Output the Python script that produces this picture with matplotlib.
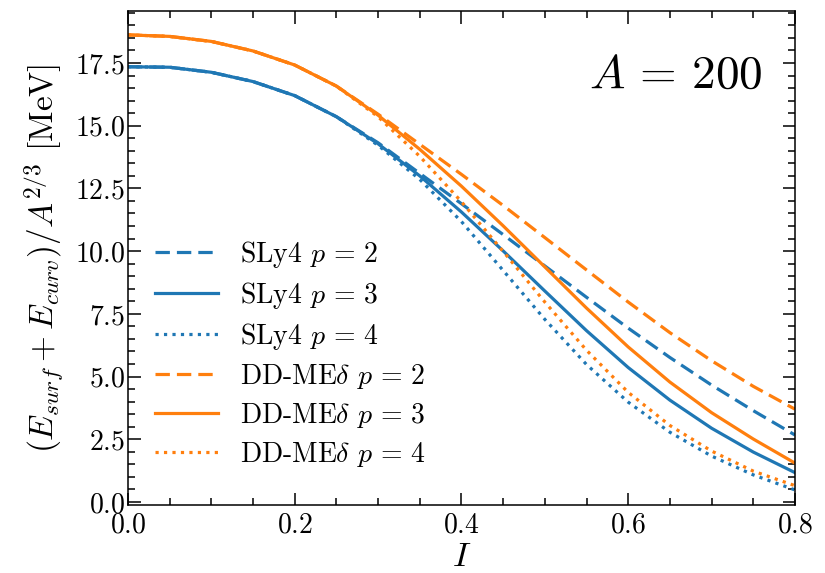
import matplotlib
matplotlib.use('Agg')
from matplotlib import pyplot as plt
from matplotlib.ticker import MultipleLocator

plt.rcParams['font.family'] = 'serif'
plt.rcParams['font.serif'] = ['cmr10']
plt.rcParams['mathtext.fontset'] = 'cm'
plt.rcParams['axes.formatter.use_mathtext'] = True
plt.rcParams['axes.unicode_minus'] = False

# isospin asymmetry grid
I = [0.0, 0.05, 0.10, 0.15, 0.20, 0.25, 0.30, 0.35, 0.40,
     0.45, 0.50, 0.55, 0.60, 0.65, 0.70, 0.75, 0.80]

# (E_surf + E_curv)/A^(2/3) in MeV
sly4_p2 = [17.35, 17.33, 17.13, 16.76, 16.20, 15.36, 14.32, 13.10, 11.89,
           10.66, 9.41, 8.16, 6.93, 5.76, 4.66, 3.64, 2.67]
sly4_p3 = [17.35, 17.33, 17.13, 16.76, 16.20, 15.36, 14.28, 13.00, 11.56,
           10.01, 8.41, 6.83, 5.36, 4.06, 2.94, 1.99, 1.17]
sly4_p4 = [17.35, 17.33, 17.13, 16.76, 16.20, 15.36, 14.22, 12.86, 11.18,
           9.23, 7.28, 5.48, 3.98, 2.78, 1.83, 1.08, 0.48]
ddme_p2 = [18.62, 18.56, 18.36, 17.98, 17.42, 16.58, 15.46, 14.26, 13.06,
           11.82, 10.54, 9.25, 7.97, 6.75, 5.63, 4.61, 3.70]
ddme_p3 = [18.62, 18.56, 18.36, 17.98, 17.42, 16.58, 15.42, 14.06, 12.59,
           11.01, 9.37, 7.73, 6.18, 4.78, 3.56, 2.51, 1.55]
ddme_p4 = [18.62, 18.56, 18.36, 17.98, 17.42, 16.58, 15.36, 13.78, 11.97,
           9.99, 7.97, 6.05, 4.37, 3.05, 2.03, 1.23, 0.65]

blue = '#1f77b4'
orange = '#ff7f0e'
dash = (0, (4.5, 2.2))
dot = (0, (1, 1.65))

fig = plt.figure(figsize=(8.25, 5.73), dpi=100)
ax = fig.add_axes([0.155, 0.1187, 0.8086, 0.862])

ax.plot(I, sly4_p2, ls=dash, color=blue, lw=2.3, label=r'SLy4 $p\,=\,2$')
ax.plot(I, sly4_p3, ls='-', color=blue, lw=2.3, label=r'SLy4 $p\,=\,3$')
ax.plot(I, sly4_p4, ls=dot, color=blue, lw=2.3, label=r'SLy4 $p\,=\,4$')
ax.plot(I, ddme_p2, ls=dash, color=orange, lw=2.3, label=r'DD-ME$\delta$ $p\,=\,2$')
ax.plot(I, ddme_p3, ls='-', color=orange, lw=2.3, label=r'DD-ME$\delta$ $p\,=\,3$')
ax.plot(I, ddme_p4, ls=dot, color=orange, lw=2.3, label=r'DD-ME$\delta$ $p\,=\,4$')

ax.set_xlim(0, 0.8)
ax.set_ylim(-0.12, 19.57)
ax.xaxis.set_major_locator(MultipleLocator(0.2))
ax.xaxis.set_minor_locator(MultipleLocator(0.05))
ax.yaxis.set_major_locator(MultipleLocator(2.5))
ax.yaxis.set_minor_locator(MultipleLocator(0.5))
ax.tick_params(which='both', direction='in', top=True, right=True,
               labelsize=20, width=1.1)
ax.tick_params(axis='x', pad=5)
ax.tick_params(axis='y', pad=2)
ax.tick_params(which='major', length=9)
ax.tick_params(which='minor', length=5)
for s in ax.spines.values():
    s.set_linewidth(1.1)

ax.set_xlabel(r'$I$', fontsize=25, labelpad=2)
ax.set_ylabel(r'$(E_{surf} + E_{curv})/A^{2/3}$ [MeV]', fontsize=24, labelpad=7)

ax.text(0.952, 0.844, r'$A\,=\,200$', transform=ax.transAxes,
        ha='right', va='baseline', fontsize=34)

ax.legend(loc='lower left', bbox_to_anchor=(0.0, 0.018), frameon=False,
          fontsize=20, handlelength=2.27, labelspacing=0.36,
          borderaxespad=0.57, handletextpad=0.8)

fig.savefig('out.png', dpi=100)
